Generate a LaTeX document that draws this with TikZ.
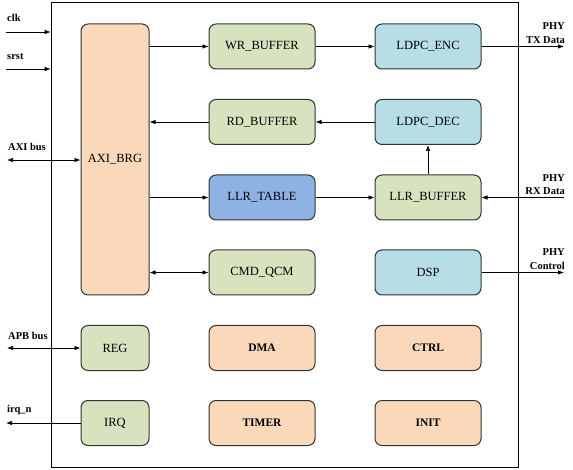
\documentclass[tikz,border=0pt]{standalone}
\usepackage{fontspec}
\setmainfont{Liberation Serif}
\usetikzlibrary{arrows.meta}
\definecolor{peach}{HTML}{FAD8BA}
\definecolor{olive}{HTML}{D6E3BE}
\definecolor{cyanbox}{HTML}{B7DDE7}
\definecolor{bluebox}{HTML}{8DB2E3}
\definecolor{edge}{HTML}{333333}
\begin{document}
\begin{tikzpicture}
        [x=1pt,y=-1pt,>={Latex[length=6pt,width=4.5pt]},
        block/.style={draw=edge,line width=1pt,rounded corners=7pt,inner sep=0,
          font=\fontsize{12.5}{14}\selectfont},
        small/.style={block,minimum width=68pt,minimum height=45pt},
        wide/.style={block,minimum width=106pt,minimum height=45pt},
        pin/.style={font=\bfseries\fontsize{10.5}{13.5}\selectfont,inner sep=0},
        wire/.style={draw,line width=0.7pt}]

        \useasboundingbox (0,0) rectangle (573,470);
        \node[draw,line width=0.7pt,minimum width=467pt,minimum height=465pt,inner sep=0] (chip) at (284.5,234.5) {};

        \node[block,fill=peach,minimum width=68pt,minimum height=271pt] (axi) at (115,159.5) {AXI\_BRG};
        \node[small,fill=olive] (reg) at (115,348) {REG};
        \node[small,fill=olive] (irq) at (115,423) {IRQ};

        \node[wide,fill=olive] (wrbuf) at (262,46.5) {WR\_BUFFER};
        \node[wide,fill=olive] (rdbuf) at (262,122) {RD\_BUFFER};
        \node[wide,fill=bluebox] (llrtab) at (262,197.5) {LLR\_TABLE};
        \node[wide,fill=olive] (cmd) at (262,272.5) {CMD\_QCM};
        \node[wide,fill=peach,font=\bfseries\fontsize{11.5}{14}\selectfont] (dma) at (262,348) {DMA};
        \node[wide,fill=peach,font=\bfseries\fontsize{11.5}{14}\selectfont] (timer) at (262,423) {TIMER};

        \node[wide,fill=cyanbox] (enc) at (428,46.5) {LDPC\_ENC};
        \node[wide,fill=cyanbox] (dec) at (428,122) {LDPC\_DEC};
        \node[wide,fill=olive] (llrbuf) at (428,197.5) {LLR\_BUFFER};
        \node[wide,fill=cyanbox] (dsp) at (428,272.5) {DSP};
        \node[wide,fill=peach,font=\bfseries\fontsize{11.5}{14}\selectfont] (ctrl) at (428,348) {CTRL};
        \node[wide,fill=peach,font=\bfseries\fontsize{11.5}{14}\selectfont] (init) at (428,423) {INIT};

        \coordinate (clk) at (6,32);
        \coordinate (srst) at (6,69);
        \coordinate (axibus) at (7,160);
        \coordinate (apbbus) at (7,348);
        \coordinate (irqn) at (6,423);
        \coordinate (txdata) at (564,46.5);
        \coordinate (rxdata) at (564,197.5);
        \coordinate (phyctrl) at (564,272.5);

        \node[pin,anchor=west] (clklabel) at (7,18) {clk};
        \node[pin,anchor=west] (srstlabel) at (7,57) {srst};
        \node[pin,anchor=west] (axilabel) at (8,147) {AXI bus};
        \node[pin,anchor=west] (apblabel) at (8,336) {APB bus};
        \node[pin,anchor=west] (irqlabel) at (7,410) {irq\_n};
        \node[pin,align=right,anchor=east] (txlabel) at (565,33) {PHY\\TX Data};
        \node[pin,align=right,anchor=east] (rxlabel) at (565,184.5) {PHY\\RX Data};
        \node[pin,align=right,anchor=east] (ctrllabel) at (565,259) {PHY\\Control};

        \draw[wire,->] (clk) -- (clk -| chip.west);
        \draw[wire,->] (srst) -- (srst -| chip.west);
        \draw[wire,<->] (axibus) -- (axibus -| axi.west);
        \draw[wire,<->] (apbbus) -- (reg.west);
        \draw[wire,->] (irq.west) -- (irqn);

        \draw[wire,->] (axi.east |- wrbuf) -- (wrbuf);
        \draw[wire,->] (wrbuf) -- (enc);
        \draw[wire,->] (enc) -- (txdata);
        \draw[wire,->] (dec) -- (rdbuf);
        \draw[wire,->] (rdbuf) -- (axi.east |- rdbuf);
        \draw[wire,->] (llrbuf) -- (dec);
        \draw[wire,->] (axi.east |- llrtab) -- (llrtab);
        \draw[wire,->] (llrtab) -- (llrbuf);
        \draw[wire,->] (rxdata) -- (llrbuf);
        \draw[wire,<->] (axi.east |- cmd) -- (cmd);
        \draw[wire,->] (dsp) -- (phyctrl);

      \end{tikzpicture}
\end{document}
